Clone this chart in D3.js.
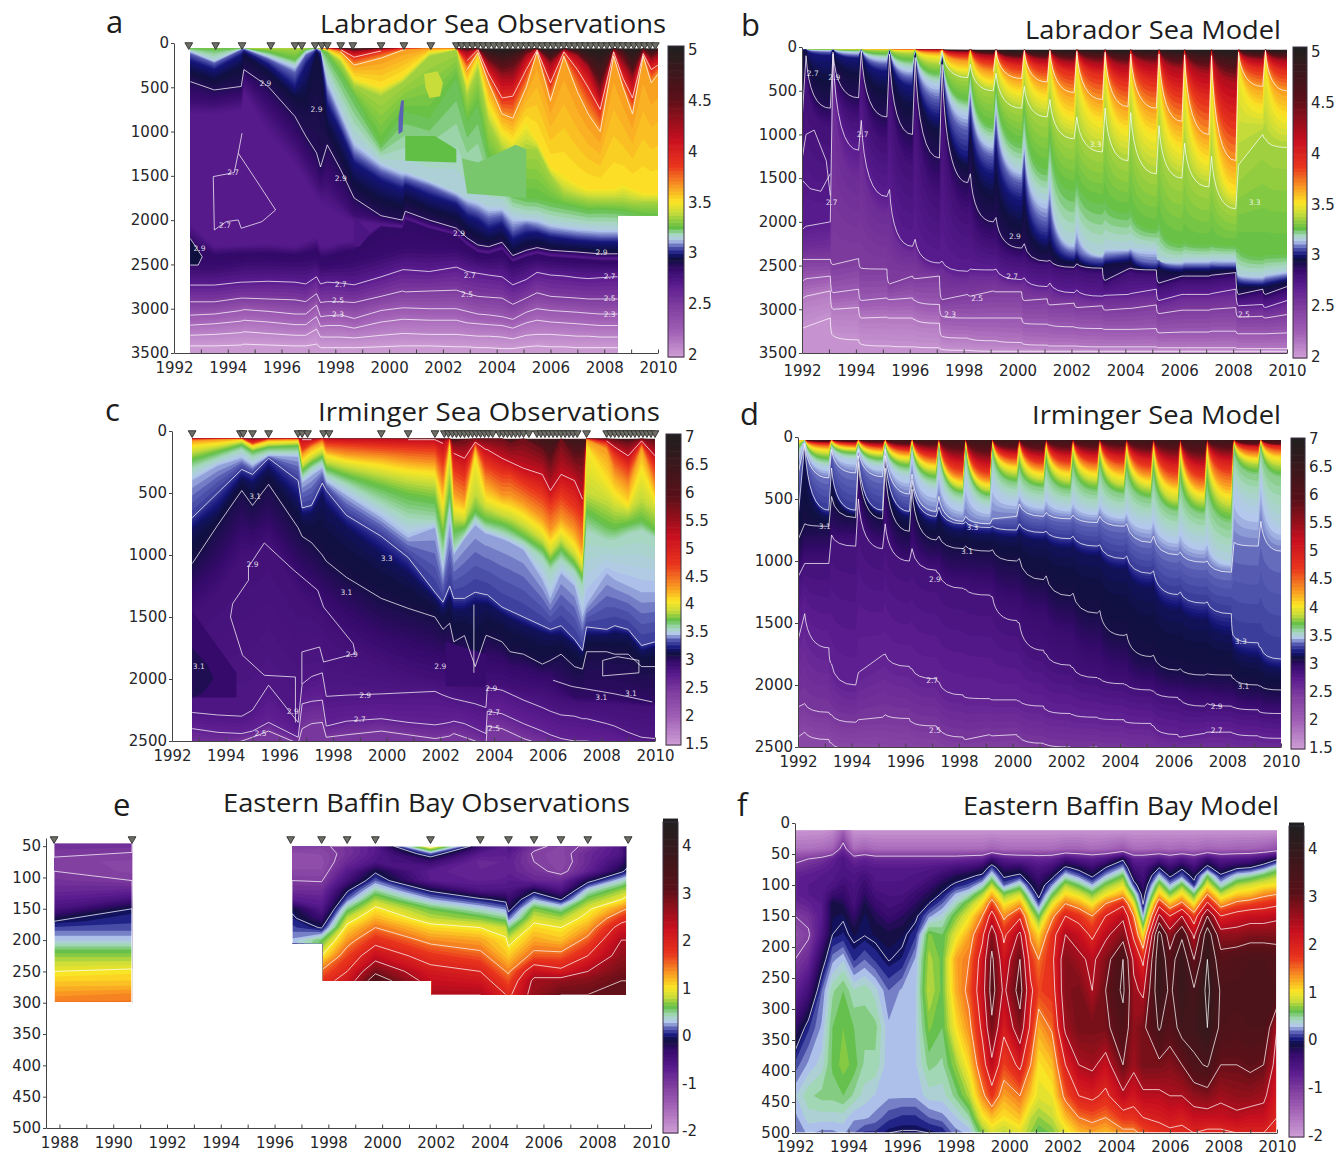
<!DOCTYPE html>
<html><head><meta charset="utf-8">
<script src="https://cdn.jsdelivr.net/npm/d3@7"></script>
<style>html,body{margin:0;background:#fff}svg{display:block}</style></head>
<body><svg id="c" width="1344" height="1157"></svg>
<script>
const colors=["#cf9fd6","#a160b5","#7e3c9e","#5b1c8f","#350a6b","#10103f","#14147a","#5a60b5","#b4c8ee","#a5d8bc","#62bf46","#c8dc3a","#fbe625","#f99a22","#e9351d","#c80f1f","#5a1018","#1f1f1f"];
const labDomain=[2,2.25,2.5,2.7,2.85,2.95,3,3.07,3.13,3.19,3.25,3.4,3.5,3.65,3.85,4.1,4.5,5];
const irmDomain=[1.5,2,2.45,2.75,2.98,3.13,3.22,3.38,3.47,3.58,3.72,3.88,4.05,4.3,4.7,5.2,5.9,7];
const bafDomain=[-2,-1.4,-1,-.65,-.25,-.05,.05,.2,.33,.47,.65,.85,1.05,1.35,1.75,2.3,3.1,4.5];
const labBarTicks=[2,2.5,3,3.5,4,4.5,5];
const irmBarTicks=[1.5,2,2.5,3,3.5,4,4.5,5,5.5,6,6.5,7];
const bafBarTicks=[-2,-1,0,1,2,3,4];
const yearTicks=[1992,1993,1994,1995,1996,1997,1998,1999,2000,2001,2002,2003,2004,2005,2006,2007,2008,2009,2010];
const eYearTicks=[1988,1989,1990,1991,1992,1993,1994,1995,1996,1997,1998,1999,2000,2001,2002,2003,2004,2005,2006,2007,2008,2009,2010];
const labDepthTicks=[0,500,1000,1500,2000,2500,3000,3500];
const irmDepthTicks=[0,500,1000,1500,2000,2500];
const eDepthTicks=[50,100,150,200,250,300,350,400,450,500];
const fDepthTicks=[0,50,100,150,200,250,300,350,400,450,500];

// ---------- a: Labrador Sea Observations
const aYears=[1992.6,1993.5,1994.5,1994.6,1995.5, 1996.5,1996.9,1997.3,1997.45,1997.7, 1998.2,1998.7,1999.7,2000.5,2000.6, 2001.5,2002.5,2002.9,2003.3,2003.7, 2004.2,2004.6,2005.1,2005.5,2006, 2006.5,2007,2007.4,2007.85,2008.35, 2008.7,2009.05,2009.45,2009.75,2010];
const aLevels=[5,4.6,4.2,3.9,3.65,3.5,3.35,3.25,3.15,3.07,3,2.95,2.9,2.82,2.72,2.72,2.86,2.84,2.7,2.5,2.3,2.2,2.1,2.02];
const aLines=[3.9,3.65,2.9,2.7,2.5,2.3,2.2,2.1,2.02];
const aDepths=[
[60,60,60,60,60,60,60,60,60,60,60,60,60,60,60,60,60,60,60,60,60,60,60,60,60,60,60,60,60,60,60,60,60,60,60],
[60,60,60,60,60, 60,60,60,60,60, 60,70,60,60,60, 60,60,60,60,150, 230,180,80,60,160, 60,100,200,380,60, 100,280,60,120,80],
[60,60,60,60,60, 60,60,60,60,60, 65,100,65,60,60, 60,60,110,65,250, 400,400,150,65,250, 80,150,280,600,80, 250,420,100,200,150],
[60,60,60,60,60, 60,60,60,60,62, 75,160,90,60,60, 60,60,200,75,350, 620,600,300,80,450, 100,300,500,750,100, 400,620,120,300,250],
[60,60,60,60,60, 60,60,60,60,65, 100,250,170,80,75, 60,62,300,110,450, 800,850,500,100,650, 150,550,800,1000,150, 500,800,150,450,350],
[60,60,60,60,60, 60,60,60,65,80, 160,400,500,380,350, 100,70,450,160,700, 1000,1100,900,1100,1400, 1500,1600,1650,1650,1650, 1600,1650,1700,1700,1700],
[60,60,60,60,60, 60,60,60,70,90, 220,480,600,450,420, 150,80,600,300,900, 1200,1300,1200,1200,1500, 1700,1740,1770,1780,1780, 1780,1800,1800,1800,1800],
[60,65,60,60,100, 190,70,60,75,120, 350,600,1150,800,780, 850,400,900,700,1300, 1450,1700,1750,1760,1800, 1830,1860,1890,1880,1890, 1900,1920,1950,1950,1950],
[90,200,65,60,150, 260,110,60,80,400, 750,1100,1350,1450,1450, 1550,1680,1750,1780,1850, 1850,1950,1980,1980,2040, 2060,2080,2090,2100,2100, 2100,2100,2100,2100,2100],
[120,230,80,70,180, 340,140,70,100,550, 900,1250,1450,1550,1530, 1620,1750,1850,1900,1980, 1950,2120,2050,2080,2130, 2150,2170,2180,2190,2190, 2190,2190,2190,2190,2190],
[200,300,130,90,240, 500,250,80,130,700, 1000,1350,1550,1650,1600, 1720,1820,1950,2000,2100, 2050,2220,2150,2140,2190, 2210,2230,2240,2250,2250, 2250,2250,2250,2250,2250],
[330,420,280,130,330, 620,600,100,250,950, 1250,1600,1780,1850,1750, 1880,1980,2100,2180,2230, 2180,2350,2270,2260,2300, 2320,2330,2340,2350,2350, 2350,2350,2350,2350,2350],
[435,530,490,300,490, 830,1050,1240,1400,1150, 1430,1750,1950,2000,1900, 2000,2090,2200,2280,2300, 2250,2400,2340,2310,2340, 2350,2360,2370,2380,2380, 2380,2380,2380,2380,2380],
[650,680,620,400,720, 1100,1300,1500,1600,1550, 1750,1950,2000,2040,1950, 2050,2130,2240,2320,2340, 2290,2430,2370,2340,2370, 2380,2390,2400,2410,2410, 2410,2410,2410,2410,2410],
[800,800,750,550,1000, 1350,1550,1750,1800,1850, 1950,2010,2050,2070,1970, 2070,2150,2260,2340,2360, 2310,2450,2390,2360,2390, 2400,2410,2420,2430,2430, 2430,2430,2430,2430,2430],
[2050,2300,2280,2280,2270, 2300,2250,2200,2300,2300, 2250,2230,2060,2080,1980, 2080,2160,2270,2350,2370, 2320,2460,2400,2370,2400, 2410,2420,2430,2440,2440, 2440,2440,2440,2440,2440],
[2250,2400,2380,2380,2380, 2400,2380,2340,2420,2420, 2370,2350,2080,2100,2000, 2100,2180,2290,2370,2390, 2340,2480,2420,2390,2420, 2430,2440,2450,2460,2460, 2460,2460,2460,2460,2460],
[2520,2520,2480,2470,2470, 2480,2470,2450,2520,2520, 2500,2480,2400,2330,2320, 2330,2330,2390,2440,2450, 2420,2520,2470,2450,2470, 2480,2490,2490,2500,2500, 2500,2500,2500,2500,2500],
[2733,2733,2700,2700,2690, 2700,2720,2640,2720,2700, 2710,2730,2640,2560,2560, 2580,2530,2580,2600,2620, 2640,2730,2670,2590,2620, 2630,2650,2660,2650,2640, 2640,2640,2640,2640,2640],
[2922,2922,2880,2880,2890, 2900,2920,2830,2930,2920, 2920,2930,2860,2800,2810, 2800,2790,2830,2860,2870, 2880,2950,2880,2820,2860, 2870,2880,2890,2890,2890, 2890,2890,2890,2890,2890],
[3073,3060,3020,3010,3030, 3060,3060,2960,3090,3080, 3070,3110,3020,2990,2990, 3000,3000,3030,3060,3070, 3090,3120,3040,3000,3020, 3030,3040,3050,3060,3060, 3060,3060,3060,3060,3060],
[3186,3170,3140,3130,3150, 3180,3180,3090,3200,3190, 3190,3220,3150,3120,3120, 3130,3130,3160,3170,3180, 3190,3220,3160,3130,3150, 3160,3170,3180,3190,3190, 3190,3190,3190,3190,3190],
[3300,3290,3270,3260,3280, 3300,3300,3230,3320,3320, 3320,3330,3300,3280,3280, 3290,3290,3300,3310,3310, 3320,3340,3300,3290,3290, 3300,3310,3310,3320,3320, 3320,3320,3320,3320,3320],
[3420,3420,3410,3400,3410, 3420,3420,3400,3440,3440, 3440,3440,3430,3420,3420, 3420,3430,3430,3440,3440, 3450,3450,3430,3420,3430, 3430,3440,3440,3440,3440, 3440,3440,3440,3440,3440]];
const aEdgeYears=[1992.6,2008.5,2010];
const aEdgeDepths=[3500,1950,1950];
const aPatches=[
{v:3.25,p:[[2000.6,1050],[2001.7,1050],[2002.5,1200],[2002.5,1350],[2000.6,1330]]},
{v:3.4,p:[[2001.3,350],[2001.8,320],[2002,450],[2001.9,600],[2001.5,620],[2001.35,500]]},
{v:3.07,p:[[2000.45,650],[2000.55,650],[2000.5,1000],[2000.35,1030],[2000.35,850]]},
{v:3.23,p:[[2002.7,1300],[2003.3,1350],[2004,1250],[2004.7,1150],[2005.1,1200],[2005.1,1750],[2002.9,1700]]},
{v:2.95,p:[[1992.6,2200],[1992.85,2310],[1993.05,2410],[1992.9,2500],[1992.6,2510]]},
{v:2.76,p:[[1998.7,1950],[1999.3,2150],[1998.9,2300],[1998.7,2300]]}];
const aExtra=[[[1994.53,1018],[1994.39,1244],[1995.05,1546],[1995.78,1885],[1995.27,2017],[1994.5,2092],[1994.39,1998],[1993.94,2017],[1993.5,2111],[1993.46,1508],[1994.24,1463],[1994.39,1244]],
[[1992.6,2205],[1992.85,2318],[1993.05,2413],[1992.9,2507],[1992.6,2507]]];
const aLabels=[[1994.2,1460,"2.7"],[1993.9,2060,"2.7"],[1992.95,2320,"2.9"],[1995.4,460,"2.9"],[1997.3,750,"2.9"],[1998.2,1530,"2.9"],[2002.6,2150,"2.9"],[2007.9,2370,"2.9"],[1998.2,2730,"2.7"],[2003,2630,"2.7"],[2008.2,2640,"2.7"],[1998.1,2910,"2.5"],[2002.9,2840,"2.5"],[2008.2,2890,"2.5"],[1998.1,3060,"2.3"],[2008.2,3060,"2.3"]];
const aStations=[1992.55,1993.55,1994.53,1995.6,1996.5,1996.75,1997.25,1997.5,1997.7,1998.2,1998.65,1999.7,2000.55,2001.55,2002.5,2002.7,2002.9,2003.1,2003.3,2003.5,2003.7,2003.9,2004.1,2004.3,2004.5,2004.7,2004.9,2005.1,2005.3,2005.5,2005.7,2005.9,2006.1,2006.3,2006.5,2006.7,2006.9,2007.1,2007.3,2007.5,2007.7,2007.9,2008.1,2008.3,2008.5,2008.7,2008.9,2009.1,2009.3,2009.5,2009.7,2009.9];

// ---------- b: Labrador Sea Model
const bYears=[1992,1992.15, 1993.05,1993.15,1994.1,1994.2,1995.15,1995.25,1996.1,1996.2,1997.1,1997.2, 1998.15,1998.25,1999.1,1999.2,2000.15,2000.25,2001.1,2001.2,2002.1,2002.2, 2003.15,2003.25,2004.1,2004.2,2005.15,2005.25,2006.1,2006.2,2007.1,2007.2, 2008.1,2008.2,2009.1,2009.2, 2010];
const bLevels=[5,4.7,4.2,3.9,3.65,3.5,3.35,3.25,3.15,3.07,3,2.94,2.9,2.8,2.7,2.6,2.5,2.3,2.15,2.05];
const bLines=[3.65,3.35,2.9,2.7,2.5,2.3,2.15,2.05];
const bDepths=[
[30,30, 30,30,30,30,30,30,30,30,30,30, 30,30,30,30,30,30,30,30,30,30, 30,30,30,30,30,30,30,30,30,30, 30,30,30,30, 30],
[30,30, 30,30,30,30,30,30,30,30,30,30, 40,30,60,30,90,30,90,30,90,30, 80,30,100,30,90,30,110,30,120,30, 160,30,80,30, 80],
[30,30, 30,30,30,30,30,30,30,30,30,30, 60,30,100,30,140,30,150,30,180,30, 190,30,220,30,200,30,250,30,300,30, 400,30,150,30, 160],
[30,30, 30,30,30,30,30,30,30,30,40,30, 100,30,170,30,220,30,240,30,290,30, 320,35,400,35,400,35,520,35,600,35, 850,35,250,30, 280],
[30,30, 30,30,30,30,30,30,30,30,70,30, 160,30,280,40,360,40,400,40,520,50, 600,60,680,80,700,80,850,90,1000,100, 1300,60,450,40, 500],
[30,30, 30,30,30,30,30,30,40,30,110,35, 260,40,400,50,520,80,580,80,800,100, 850,130,950,200,1000,200,1150,250,1300,280, 1650,80,700,60, 800],
[30,30, 30,30,30,30,40,30,80,35,200,45, 350,200,500,300,700,450,800,600,1050,800, 1200,700,1300,750,1450,900,1500,1100,1600,1250, 1850,1350,1000,1050, 1150],
[30,30, 30,30,40,30,80,30,150,40,300,60, 600,280,900,450,1100,700,1400,1000,1650,1500, 1800,1750,1900,1850,2090,2000,2260,2230,2270,2250, 2280,2300,2400,2380, 2380],
[30,30, 40,30,60,30,130,30,250,50,420,80, 750,450,1100,650,1400,1100,1750,1500,2250,2000, 2380,2300,2310,2290,2310,2450,2460,2440,2440,2430, 2430,2600,2620,2600, 2560],
[30,30, 60,30,100,30,200,40,350,60,600,100, 950,600,1250,850,1550,1250,2000,1800,2350,2300, 2430,2400,2370,2350,2470,2440,2510,2500,2500,2490, 2500,2650,2680,2660, 2620],
[30,30, 100,30,130,30,280,40,450,60,800,120, 1250,800,1450,1100,1750,1500,2200,2100,2430,2380, 2500,2460,2430,2410,2530,2500,2550,2540,2540,2530, 2530,2700,2720,2710, 2660],
[100,30, 450,40,350,30,550,40,750,70,1000,150, 1400,1000,1750,1500,2100,1850,2350,2300,2480,2440, 2530,2500,2480,2470,2560,2530,2590,2570,2580,2570, 2560,2760,2750,2760, 2700],
[850,100, 700,60,580,40,800,80,1000,120,1270,200, 1550,1450,2000,1950,2300,2250,2450,2440,2520,2480, 2530,2670,2540,2530,2550,2700,2620,2620,2620,2610, 2580,2830,2770,2830, 2740],
[950,300, 900,80,800,50,1100,150,1350,250,1700,400, 1900,1850,2250,2230,2420,2400,2500,2480,2560,2540, 2600,2720,2590,2580,2610,2750,2680,2680,2680,2670, 2650,2880,2830,2880, 2810],
[2090,2050, 2000,80,1180,840,1710,1630,2280,2200,2470,2450, 2565,2540,2550,2540,2660,2640,2740,2700,2810,2780, 2850,2840,2830,2820,2770,2900,2830,2830,2830,2820, 2770,2960,2945,2980, 2900],
[2300,2280, 2250,300,1500,1100,1900,1850,2350,2300,2550,2530, 2650,2620,2630,2620,2720,2700,2790,2760,2860,2830, 2900,2880,2880,2870,2850,2950,2880,2880,2880,2870, 2840,3000,2990,3020, 2950],
[2430,2430, 2430,2490,2420,2530,2540,2710,2620,2650,2620,2890, 2830,2850,2790,2800,2800,2900,2880,2950,2930,2980, 2960,3010,2990,2990,2950,3050,3010,3010,3010,3000, 2980,3090,3080,3100, 3060],
[2680,2650, 2620,2810,2770,2900,2870,2890,2870,2900,2945,3080, 3100,3100,3100,3100,3100,3160,3170,3180,3200,3210, 3220,3230,3230,3230,3220,3270,3260,3260,3260,3250, 3250,3280,3280,3280, 3270],
[2880,2850, 2790,3000,2980,3100,3090,3100,3100,3120,3160,3310, 3330,3340,3360,3360,3380,3400,3410,3420,3420,3420, 3430,3430,3430,3430,3430,3440,3440,3440,3440,3440, 3440,3450,3450,3450, 3450],
[3220,3200, 3100,3300,3350,3400,3420,3420,3430,3430,3440,3460, 3470,3470,3480,3480,3480,3480,3480,3480,3480,3480, 3480,3480,3480,3480,3480,3480,3480,3480,3480,3480, 3480,3480,3480,3480, 3480]];
const bPatches=[];
const bExtra=[[[1992.02,1250],[1992.15,1000],[1992.45,950],[1992.9,1300],[1993.05,1700]],[[1992,1520],[1992.3,1620],[1992.7,1650],[1993.05,1450]]];
const bLabels=[[1992.4,300,"2.7"],[1993.2,350,"2.9"],[1994.25,1000,"2.7"],[1993.1,1780,"2.7"],[1999.9,2170,"2.9"],[1999.8,2620,"2.7"],[1998.5,2880,"2.5"],[1997.5,3060,"2.3"],[2002.9,1120,"3.3"],[2008.8,1780,"3.3"],[2008.4,3060,"2.5"]];

// ---------- c: Irminger Sea Observations
const cYears=[1992.75,1993.7,1994.6,1995,1995.6, 1996.7,1996.85,1997.2,1997.6,1997.75, 1998.5,1999.8,2000.8,2001.8,2002.1, 2002.35,2002.5,2002.9,2003.3,2003.7, 2003.75,2004.3,2004.6,2005.1,2005.8, 2006.1,2006.5,2007,2007.3,2007.45, 2008.2,2008.5,2009,2009.5,2010];
const cLevels=[6.5,5.8,5.2,4.7,4.3,4.05,3.88,3.72,3.58,3.45,3.3,3.17,3.1,3,2.9,2.82,2.7,2.5];
const cLines=[5.2,3.3,3.1,2.82,2.7,2.5];
const cDepths=[
[60,60,60,60,60,60,60,60,60,60,60,60,60,60,60,60,60,60,60,60,60,60,60,60,60,60,60,60,60,60,60,60,60,60,60],
[60,60,60,60,60, 60,60,60,60,60, 60,60,60,60,60, 60,90,70,60,60, 60,60,100,60,150, 250,60,220,220,60, 60,70,90,60,80],
[60,60,60,70,60, 60,70,70,60,62, 65,65,70,70,100, 60,180,220,90,150, 150,220,250,300,350, 480,350,400,550,60, 80,130,200,80,200],
[65,62,62,100,65, 62,150,100,62,100, 110,130,140,150,260, 62,320,380,100,280, 280,350,350,430,520, 600,520,620,700,62, 100,200,300,100,300],
[80,70,65,110,75, 70,190,130,90,160, 190,210,240,260,450, 70,500,560,130,420, 420,520,520,580,700, 800,700,800,950,70, 150,350,450,130,450],
[120,100,75,125,90, 85,240,180,130,200, 240,280,320,340,600, 120,620,650,200,550, 550,600,620,680,800, 900,800,920,1050,120, 400,500,600,300,550],
[170,130,90,145,110, 100,280,220,170,250, 290,350,400,430,700, 300,700,720,500,620, 620,680,700,760,880, 980,880,1000,1120,500, 560,620,650,540,640],
[230,170,110,165,130, 120,320,260,210,300, 360,450,520,560,850, 500,800,780,650,720, 720,750,780,850,950, 1050,950,1070,1180,650, 760,780,750,720,800],
[300,220,150,210,170, 170,370,300,250,350, 430,580,700,720,1000, 600,950,840,700,780, 780,820,850,900,1020, 1120,1030,1130,1250,800, 880,880,830,800,860],
[400,280,220,280,200, 210,420,360,300,410, 520,700,860,780,1150, 750,1000,870,760,830, 830,870,900,960,1200, 1350,1150,1250,1500,1400, 1150,1200,1250,1300,1300],
[700,500,310,350,220, 400,620,600,420,480, 680,850,1020,1300,1380, 1250,1350,1350,1300,1320, 1320,1420,1450,1500,1570, 1600,1570,1680,1770,1580, 1600,1570,1600,1730,1700],
[800,650,380,430,300, 580,680,670,520,620, 780,1000,1150,1350,1450, 1350,1450,1450,1400,1400, 1400,1480,1520,1570,1630, 1650,1650,1720,1800,1650, 1650,1630,1650,1780,1750],
[1070,760,480,600,430, 780,850,900,1000,1050, 1180,1350,1430,1500,1600, 1550,1700,1650,1900,1650, 1650,1700,1780,1800,1880, 1850,1800,1900,1920,1780, 1780,1800,1800,1900,1900],
[1250,1050,750,800,700, 1050,1100,1150,1250,1280, 1420,1600,1680,1750,1780, 1780,1800,1820,1950,1800, 1800,1820,1880,1900,1950, 1950,2050,2150,2150,2150, 2150,2160,2170,2190,2190],
[1500,1300,1000,1000,900, 1300,1350,1400,1500,1550, 1700,1850,1950,2000,2010, 2020,2030,2050,2060,2060, 2060,2050,2070,2090,2110, 2130,2170,2180,2190,2190, 2200,2200,2210,2220,2220],
[2270,2290,2300,2250,2050, 2350,2040,1980,1950,2140, 2130,2120,2110,2100,2130, 2150,2160,2180,2200,2230, 2070,2090,2120,2170,2230, 2260,2290,2300,2320,2320, 2360,2380,2430,2470,2480],
[2400,2430,2440,2420,2350, 2470,2200,2180,2170,2380, 2340,2320,2350,2370,2360, 2350,2340,2360,2400,2440, 2260,2280,2310,2360,2420, 2450,2480,2500,2500,2500, 2520,2520,2540,2550,2560],
[2550,2550,2500,2470,2420, 2520,2400,2360,2350,2470, 2450,2420,2450,2480,2470, 2460,2440,2470,2500,2530, 2380,2400,2430,2480,2530, 2550,2560,2570,2580,2580, 2600,2600,2600,2600,2600]];
const cPatches=[
{v:2.98,p:[[1992.75,1450],[1993.4,1650],[1994.4,1950],[1994.4,2150],[1992.75,2150]]},
{v:3.07,p:[[1992.75,1750],[1993.3,1880],[1993.55,2000],[1993.1,2120],[1992.75,2150]]},
{v:2.96,p:[[2002.2,1700],[2003.7,1800],[2003.7,2060],[2002.2,2060]]}];
const cExtra=[[[1995.44,903],[1994.85,1097],[1994.85,1204],[1994.26,1392],[1994.18,1500],[1994.63,1809],[1995.44,1970],[1996.6,1984],[1996.6,2350]],
[[1995.44,903],[1996.54,1123],[1997.43,1285],[1997.65,1420],[1998.75,1715],[1998.83,1795],[1997.65,1863],[1997.5,1742],[1996.84,1782],[1996.84,2040]],
[[2006.2,2010],[2006.9,2060],[2008.5,2120],[2009.9,2185]],
[[2008.05,1850],[2008.6,1820],[2009.4,1850],[2009.4,1950],[2008.05,1975],[2008.05,1850]],
[[2003.25,1400],[2003.25,1950]]];
const cLabels=[[1995,1080,"2.9"],[1998.7,1800,"2.9"],[2002,1900,"2.9"],[1995.1,530,"3.1"],[1998.5,1300,"3.1"],[2000,1030,"3.3"],[1993,1900,"3.1"],[1999.2,2130,"2.9"],[1996.5,2260,"2.9"],[2008,2150,"3.1"],[1999,2330,"2.7"],[2003.9,2080,"2.9"],[2004,2270,"2.7"],[2004,2400,"2.5"],[1995.3,2440,"2.5"],[2009.1,2120,"3.1"]];
const cStations=[1992.75,1994.55,1994.65,1995,1995.6,1996.7,1996.85,1997.05,1997.65,1997.85,1999.8,2000.8,2001.8,2002.15,2002.3,2002.45,2002.6,2002.75,2002.9,2003.05,2003.2,2003.35,2003.5,2003.65,2003.8,2003.95,2004.2,2004.35,2004.5,2004.65,2004.8,2004.95,2005.1,2005.3,2005.6,2005.75,2005.9,2006.05,2006.2,2006.35,2006.5,2006.65,2006.8,2006.95,2007.1,2007.45,2008.2,2008.35,2008.5,2008.65,2008.8,2008.95,2009.1,2009.25,2009.4,2009.55,2009.7,2009.85,2010];

// ---------- d: Irminger Sea Model
const dYears=[1992,1992.25, 1993.15,1993.25,1994.15,1994.25,1995.15,1995.25,1996.15,1996.25,1997.15,1997.25, 1998.15,1998.25,1999.15,1999.25,2000.15,2000.25,2001.15,2001.25,2002.15,2002.25, 2003.15,2003.25,2004.15,2004.25,2005.15,2005.25,2006.15,2006.25,2007.15,2007.25, 2008.15,2008.25,2009.15,2009.25, 2010];
const dLevels=[6.5,5.8,5,4.5,4.1,3.85,3.65,3.5,3.4,3.3,3.17,3.1,3.02,2.95,2.9,2.7,2.5,2.3];
const dLines=[3.4,3.3,3.1,2.9,2.7,2.5,2.3];
const dDepths=[
[25,25, 25,25,25,25,25,25,25,25,25,25, 25,25,25,25,25,25,25,25,25,25, 25,25,25,25,25,25,25,25,25,25, 25,25,25,25, 25],
[25,25, 40,25,40,25,45,25,60,25,70,25, 110,25,130,25,90,25,100,25,90,25, 90,25,80,25,100,25,110,25,140,25, 100,25,60,25, 60],
[25,25, 50,25,50,25,70,25,90,25,130,25, 210,25,240,25,140,30,170,30,160,30, 160,30,160,30,180,30,220,30,250,30, 200,25,80,25, 70],
[25,25, 70,25,70,25,90,25,120,25,180,30, 300,30,320,30,190,40,230,40,230,40, 220,40,230,40,270,40,330,40,360,40, 320,30,120,25, 110],
[30,25, 100,30,90,30,120,30,160,30,230,40, 360,40,380,40,240,60,290,60,290,60, 290,60,310,70,350,70,420,80,450,80, 460,40,170,30, 160],
[60,25, 140,50,110,50,150,50,200,60,280,60, 410,70,430,70,300,150,350,110,360,120, 360,120,390,140,420,150,520,180,530,200, 560,60,220,50, 230],
[100,25, 190,60,140,60,190,60,250,80,340,80, 460,100,480,110,370,250,410,220,430,230, 440,230,460,270,500,300,600,350,620,400, 690,100,300,80, 320],
[150,30, 240,80,180,80,240,80,320,120,420,250, 550,300,570,300,500,430,540,450,560,480, 590,500,620,560,680,600,800,700,850,780, 1000,350,560,250, 700],
[300,50, 330,100,290,100,320,100,460,300,600,480, 680,640,700,660,640,540,640,610,660,630, 690,640,720,700,850,800,950,930,1010,1000, 1090,850,880,680, 920],
[650,60, 590,250,590,150,590,150,600,350,640,565, 700,685,730,720,750,700,770,760,820,800, 880,870,980,960,1100,1080,1270,1250,1340,1330, 1425,1610,1660,1700, 1790],
[700,80, 640,280,620,180,620,180,650,380,700,620, 760,740,790,780,810,770,840,830,900,880, 960,950,1070,1050,1220,1200,1400,1380,1480,1470, 1600,1700,1780,1800, 1870],
[830,700, 720,480,650,200,660,250,760,420,830,800, 900,880,920,910,1000,980,1150,1120,1280,1260, 1420,1400,1600,1590,1770,1760,1880,1870,1920,1910, 1920,1950,2000,2010, 2040],
[1000,850, 850,700,750,300,780,350,900,600,950,920, 1050,1030,1060,1050,1180,1170,1300,1290,1450,1440, 1600,1580,1760,1750,1900,1890,1990,1980,2020,2010, 2040,2050,2100,2100, 2130],
[1050,950, 950,800,800,400,850,500,1000,800,1020,1000, 1150,1130,1180,1170,1320,1300,1450,1440,1600,1590, 1780,1770,1900,1890,2000,1990,2070,2060,2090,2080, 2110,2120,2170,2170, 2200],
[1130,1020, 1020,790,880,500,900,700,1000,900,1075,1100, 1220,1230,1275,1290,1480,1500,1720,1750,1840,1860, 1940,1950,1990,2000,2040,2050,2100,2120,2170,2150, 2170,2180,2200,2220, 2230],
[1640,1425, 1700,1830,2000,1900,1760,1750,1850,1870,1950,1975, 2080,2100,2110,2120,2120,2130,2170,2200,2230,2240, 2260,2270,2280,2300,2310,2330,2400,2420,2390,2380, 2380,2390,2410,2420, 2430],
[2177,2150, 2220,2240,2300,2280,2260,2240,2270,2300,2330,2350, 2420,2440,2400,2410,2400,2420,2470,2480,2500,2510, 2500,2510,2520,2530,2540,2550,2560,2570,2580,2590, 2600,2610,2620,2620, 2630],
[2420,2380, 2440,2470,2520,2510,2530,2540,2560,2570,2600,2600, 2620,2620,2640,2640,2640,2640,2650,2650,2650,2650, 2650,2650,2650,2650,2650,2650,2650,2650,2650,2650, 2650,2650,2650,2650, 2650]];
const dPatches=[];
const dExtra=[];
const dLabels=[[1993,720,"3.1"],[1998.5,730,"3.3"],[1998.3,920,"3.1"],[1997.1,1150,"2.9"],[1997,1960,"2.7"],[1997.1,2370,"2.5"],[2008.5,1650,"3.3"],[2008.6,2010,"3.1"],[2007.6,2170,"2.9"],[2007.6,2370,"2.7"]];

// ---------- e: Eastern Baffin Bay Observations
const eLeftYears=[1987.8,1990.7];
const eLeftDepths=[45,60,75,90,105,125,150,170,185,200,215,230,250,270,285,300];
const eLeftCols=[[-.85,-.95,-1.05,-1,-.9,-.75,-.45,0,.2,.35,.6,.8,1,1.2,1.35,1.5],[-.85,-1,-1.1,-1.1,-1,-.65,0,.1,.2,.35,.6,.8,1.05,1.2,1.4,1.5]];
const eRightYears=[1996.65,1997.75,1998.7,1999.75,2001.8,2003.65,2004.6,2004.7,2005.65,2006.65,2007.65,2008.9,2009.1];
const eRightDepths=[50,62,75,90,105,120,135,150,165,180,200,225,250,265,287,310];
const eRightCols=[
[-1,-1.2,-1.2,-1.15,-1,-.85,-.6,-.05,.05,.15,.3,.3,.3,.3,.3,.3],
[-1.05,-1.15,-1.2,-1.15,-1.02,-.85,-.7,-.55,-.3,-.02,.6,1,1.55,1.8,1.9,1.9],
[-.9,-.9,-.8,-.6,-.4,-.05,.2,.55,.85,1.1,1.35,1.7,2,2.2,2.2,2.2],
[-.6,-.6,-.5,-.05,.2,.5,.8,1.05,1.25,1.5,1.85,2.3,2.9,3.3,3.3,3.3],
[1.2,.2,-.3,-.65,-.6,-.05,.3,.65,.85,1.1,1.4,1.8,2.15,2.3,2.5,2.5],
[-.3,-.6,-.8,-.75,-.7,-.5,.05,.4,.7,1,1.3,1.6,2,2.2,2.5,2.5],
[-.6,-.65,-.75,-.75,-.65,-.5,-.1,.25,.55,.85,1.05,1.2,1.5,1.7,2,2],
[-.5,-.6,-.7,-.7,-.6,-.5,-.3,-.1,.2,.55,.9,1.15,1.45,1.65,1.9,1.9],
[-.9,-1.05,-1,-.9,-.75,-.1,.3,.7,.9,1.1,1.3,1.6,2.3,2.6,2.7,2.7],
[-1.1,-1.12,-1.15,-1.1,-.8,-.5,-.02,.5,.8,1,1.2,1.6,2.1,2.7,3,3],
[-.95,-.8,-.8,-.7,-.1,.4,.7,.95,1.1,1.3,1.6,2,2.5,2.8,3,3],
[-.5,-.5,-.3,-.05,.4,.75,1,1.4,1.8,2.2,2.5,2.7,2.9,3,3,3],
[-.1,-.2,-.1,.05,.5,.8,1.1,1.5,1.9,2.2,2.5,2.7,2.9,3,3,3]];
const eEdgeYears=[1996.65,1997.8,2001.85,2009.15];
const eEdgeDepths=[205,265,287,287];
const eLines=[-1,0,1,1.5,2,2.5,3];
const eStations=[1987.8,1990.7,1996.6,1997.75,1998.7,1999.75,2001.8,2003.65,2004.7,2005.65,2006.65,2007.65,2009.15];

// ---------- f: Eastern Baffin Bay Model
const fYears=[1992,1992.5,1993,1993.4,1993.8,1994.2,1994.6,1995,1995.5,1996,1996.5,1997,1997.5,1998,1998.5,1999,1999.35,1999.8,2000.4,2000.8,2001.1,2001.6,2002.1,2002.6,2003.1,2003.6,2004.25,2004.65,2005,2005.6,2006,2006.45,2006.9,2007.4,2007.9,2008.5,2009,2009.5,2010];
const fDepths=[12,42,58,72,85,100,115,130,150,180,220,270,330,390,440,475,500];
const fCols=[
[-1.9,-1.55,-1.1,-.9,-.7,-.7,-.7,-.8,-1,-1.2,-1,-.7,-.25,.15,.35,.25,.2],
[-1.9,-1.55,-1,-.8,-.65,-.6,-.6,-.7,-.9,-1.05,-.8,-.4,.1,.3,.5,.4,.3],
[-1.9,-1.5,-.9,-.7,-.6,-.55,-.55,-.6,-.6,-.5,-.15,.2,.3,.4,.55,.4,.25],
[-1.8,-1.4,-.7,-.6,-.55,-.5,-.3,-.05,-.05,0,.25,.5,.6,.62,.55,.4,.25],
[-1.4,-.8,-.5,-.5,-.45,-.35,-.25,-.15,-.02,.05,.35,.6,.68,.72,.6,.4,.3],
[-1.9,-1.5,-.8,-.6,-.5,-.45,-.45,-.4,-.25,-.05,.1,.45,.6,.65,.5,.3,.2],
[-1.9,-1.4,-.7,-.55,-.4,-.3,-.2,-.1,-.02,-.01,.2,.5,.55,.5,.4,.3,.1],
[-1.9,-1.5,-.8,-.6,-.55,-.5,-.4,-.3,-.15,-.05,.1,.4,.55,.5,.35,.25,.1],
[-1.9,-1.5,-.8,-.6,-.55,-.5,-.45,-.4,-.3,-.08,-.01,.2,.3,.3,.3,.15,0],
[-1.9,-1.5,-.8,-.6,-.55,-.5,-.45,-.35,-.2,-.05,.05,.3,.35,.35,.3,.1,-.02],
[-1.9,-1.5,-.8,-.6,-.5,-.45,-.3,-.2,-.05,.1,.3,.35,.35,.35,.3,.1,-.02],
[-1.9,-1.5,-.8,-.55,-.45,-.3,-.15,0,.25,.7,.8,.85,.7,.55,.4,.2,0],
[-1.9,-1.5,-.8,-.5,-.3,-.1,.03,.2,.4,.6,.65,.65,.6,.5,.4,.25,.05],
[-1.9,-1.5,-.8,-.4,-.15,.05,.3,.45,.7,.95,1.3,1.25,1.05,.75,.55,.35,.25],
[-1.9,-1.5,-.75,-.35,-.05,.15,.45,.75,1,1.3,1.5,1.6,1.4,1.1,.8,.5,.3],
[-1.9,-1.5,-.7,-.2,.05,.4,.8,1.1,1.5,1.9,2.2,2.3,2.1,1.8,1.4,1,.7],
[-1.9,-1.4,-.3,.15,.45,.85,1.25,1.7,2.2,2.8,3.1,3.2,2.9,2.4,1.8,1.2,.9],
[-1.9,-1.5,-.6,-.25,-.05,.2,.7,1,1.4,1.9,2.2,2.4,2.1,1.7,1.3,1.05,.8],
[-1.9,-1.5,-.7,-.2,.05,.5,.9,1.3,1.9,2.6,3,3.2,2.8,2.1,1.5,1.2,.95],
[-1.9,-1.5,-.7,-.4,-.2,0,.3,.6,1,1.4,1.8,2.1,1.9,1.5,1.15,.85,.75],
[-1.9,-1.5,-.75,-.5,-.35,-.2,-.1,.15,.6,1.1,1.5,1.7,1.3,1.05,.95,.75,.6],
[-1.9,-1.5,-.7,-.35,-.1,.25,.6,.95,1.4,1.8,1.9,1.8,1.55,1.2,1,.85,.7],
[-1.9,-1.4,-.4,.05,.4,.8,1.1,1.5,2,2.5,2.8,2.8,2.6,2,1.6,1.2,.95],
[-1.9,-1.4,-.55,-.1,.2,.6,.95,1.3,1.8,2.3,2.6,2.9,2.9,2.5,2,1.5,1.2],
[-1.9,-1.5,-.65,-.3,-.05,.3,.7,1,1.5,1.9,2.4,2.5,2.9,2.6,2.1,1.6,1.3],
[-1.9,-1.45,-.5,0,.3,.7,1,1.5,2,2.4,2.8,3,2.9,2.3,1.9,1.5,1.2],
[-1.9,-1.3,-.05,.3,.65,.95,1.3,1.9,2.4,2.8,3.5,3.6,3.3,3,2.4,1.8,1.4],
[-1.9,-1.5,-.7,-.4,-.2,.15,.6,1,1.5,1.9,2.4,2.6,2.7,2.6,2.2,1.8,1.4],
[-1.9,-1.5,-.7,-.5,-.4,-.3,-.15,-.02,.3,1,1.9,2.4,2.9,2.9,2.4,2,1.6],
[-1.9,-1.45,-.5,0,.35,.8,1.2,1.8,2.6,3.7,3.9,3.9,3.55,2.9,2.4,2.1,1.8],
[-1.9,-1.5,-.7,-.3,-.05,.3,.7,1.2,2,2.7,3.2,3.4,3.2,2.8,2.5,2.2,1.9],
[-1.9,-1.45,-.5,-.05,.2,.7,1.1,1.6,2.5,3.4,3.9,3.9,3.7,3,2.5,2.1,1.9],
[-1.9,-1.5,-.7,-.35,-.1,.1,.6,1,1.7,2.4,3,3.55,3.7,3.4,2.7,2.3,2],
[-1.9,-1.4,-.3,.1,.6,1,1.5,2.1,3,3.8,4,4.1,4,3.55,2.8,2.3,1.9],
[-1.9,-1.45,-.6,-.25,.05,.4,.85,1.3,2,2.7,3.2,3.45,3.4,3,2.6,2.3,1.9],
[-1.9,-1.4,-.55,-.05,.4,.8,1.15,1.6,2.2,2.7,3.3,3.45,3.35,3,2.7,2.4,2],
[-1.9,-1.4,-.5,0,.5,.9,1.2,1.7,2.3,2.8,3.4,3.45,3.4,3.1,2.7,2.3,2],
[-1.9,-1.35,-.3,.2,.65,1,1.4,1.8,2.3,2.8,3.4,3.45,3.4,3,2.6,2.3,2],
[-1.9,-1.2,-.05,.5,.8,1.05,1.5,1.9,2.4,2.8,3.3,3.4,2.5,2.3,2.1,2,1.8]];
const fLines=[-1,0,1.5,2,2.5,3,3.5,4];

// ---------- layout and drawing
const svg=d3.select("#c");
const AF="DejaVu Sans, sans-serif", TF="Open Sans, Noto Sans, sans-serif", INK="#26262a";
let uid=0;

// Sawtooth ramp of the model panels: a fast fall after each winter, flattening towards the next one.
function sawCurve(context){
  let line,pt,x0,y0;
  return {
    areaStart(){line=0;}, areaEnd(){line=NaN;},
    lineStart(){pt=0;},
    lineEnd(){ if(line||(line!==0&&pt===1)) context.closePath(); line=1-line; },
    point(x,y){
      x=+x;y=+y;
      if(pt===0){pt=1; line?context.lineTo(x,y):context.moveTo(x,y);}
      else{pt=2; if(y>y0+.5) context.quadraticCurveTo(x0+(x-x0)*.14,y,x,y); else context.lineTo(x,y);}
      x0=x;y0=y;
    }
  };
}
function axes(g,x,y,ticksX,ticksY,bottomPx,pad){
  const ax=g.append("g").attr("transform",`translate(0,${bottomPx})`)
    .call(d3.axisBottom(x).tickValues(ticksX).tickSize(-3.5).tickSizeOuter(0).tickPadding(pad)
      .tickFormat(d=>d%2===0?String(d):""));
  const ay=g.append("g").attr("transform",`translate(${x.range()[0]},0)`)
    .call(d3.axisLeft(y).tickValues(ticksY).tickSize(3).tickSizeOuter(0).tickPadding(2).tickFormat(String));
  [ax,ay].forEach(s=>{s.selectAll("text").attr("font-family",AF).attr("font-size",15).attr("fill",INK);
    s.selectAll("line,path").attr("stroke","#444").attr("stroke-width",1);});
}
function titles(t,tx,ty,w,l,lx,ly){
  svg.append("text").text(t).attr("x",tx).attr("y",ty).attr("text-anchor","end").attr("font-family",TF).attr("font-weight",500)
    .attr("font-size",26).attr("fill","#1d1d20").attr("textLength",w).attr("lengthAdjust","spacingAndGlyphs");
  svg.append("text").text(l).attr("x",lx).attr("y",ly).attr("font-family",TF).attr("font-size",31).attr("fill","#1d1d20");
}
function colorbar(x0,x1,yTop,yBot,lo,hi,domain,ticks,color,fmtY){
  const ys=d3.scaleLinear().domain([lo,hi]).range([yBot,yTop]);
  const steps=d3.range(lo,hi,(hi-lo)/90);
  const g=svg.append("g");
  g.selectAll("rect").data(steps).join("rect").attr("x",x0).attr("width",x1-x0)
    .attr("y",d=>ys(d+(hi-lo)/90)).attr("height",d=>ys(d)-ys(d+(hi-lo)/90)+.6).attr("fill",d=>color(d+(hi-lo)/180));
  g.append("rect").attr("x",x0).attr("y",yTop).attr("width",x1-x0).attr("height",yBot-yTop).attr("fill","none").attr("stroke","#3a3040").attr("stroke-width",1);
  g.selectAll("text").data(ticks).join("text").text(d=>d).attr("x",x1+4).attr("y",d=>fmtY(d)+5)
    .attr("font-family",AF).attr("font-size",15).attr("fill",INK);
}
function isolinePanel(o){
  const {years,levels,depths,domain,lines,x,y,top,patches,extra,labels,edge,curve}=o;
  if(depths.length!==levels.length) throw new Error(o.name+" levels "+depths.length+"/"+levels.length);
  depths.forEach((r,i)=>{if(r.length!==years.length) throw new Error(o.name+" row "+i+" len "+r.length+" vs "+years.length);});
  const cv=curve||d3.curveLinear;
  const color=d3.scaleLinear().domain(domain).range(colors).interpolate(d3.interpolateRgb).clamp(true);
  const id="clip"+(uid++);
  const eY=edge?edge[0]:[years[0],years[years.length-1]], eD=edge?edge[1]:[y.domain()[1],y.domain()[1]];
  svg.append("clipPath").attr("id",id).append("path").attr("d",
    d3.area().x(d=>x(d[0])).y0(y(top)).y1(d=>y(d[1])).curve(d3.curveStepAfter)(eY.map((t,i)=>[t,eD[i]]).concat([[years[years.length-1],eD[eD.length-1]]])));
  const g=svg.append("g").attr("clip-path",`url(#${id})`);
  const bottom=y.range()[1];
  const sub=5;
  const ar=d3.area().x((d,i)=>x(years[i])).y0(bottom).y1(d=>y(d)).curve(cv);
  levels.forEach((lv,k)=>{
    if(k===levels.length-1) return;
    for(let s=0;s<sub;s++){
      const f=s/sub, v=lv+(levels[k+1]-lv)*(f+.5/sub);
      const pts=years.map((t,i)=>depths[k][i]+(depths[k+1][i]-depths[k][i])*f);
      g.append("path").attr("d",ar(pts)).attr("fill",color(v));
    }
  });
  const last=levels.length-1;
  g.append("path").attr("d",ar(depths[last])).attr("fill",color(levels[last]));
  (patches||[]).forEach(p=>{g.append("path").attr("d",d3.line().x(d=>x(d[0])).y(d=>y(d[1]))(p.p)+"Z").attr("fill",color(p.v));});
  const ln=d3.line().x((d,i)=>x(years[i])).y(d=>y(d)).defined(d=>d>top+8).curve(cv);
  levels.forEach((lv,k)=>{ if(lines.includes(lv)&&k>0) g.append("path").attr("d",ln(depths[k])).attr("fill","none").attr("stroke","#fff").attr("stroke-opacity",.72).attr("stroke-width",1); });
  (extra||[]).forEach(l=>g.append("path").attr("d",d3.line().x(d=>x(d[0])).y(d=>y(d[1])).curve(d3.curveLinear)(l)).attr("fill","none").attr("stroke","#fff").attr("stroke-opacity",.72).attr("stroke-width",1));
  (labels||[]).forEach(l=>g.append("text").text(l[2]).attr("x",x(l[0])).attr("y",y(l[1])+2.5).attr("text-anchor","middle").attr("font-family",AF).attr("font-size",7.5).attr("fill","#fff").attr("fill-opacity",.85));
  return color;
}
function gridPanel(o){
  const {years,depths,cols,x,y,color,lines,clipEdge,top}=o;
  const n=years.length,m=depths.length,flat=new Array(n*m);
  if(cols.length!==n) throw new Error("cols "+cols.length+" vs "+n);
  cols.forEach((c,i)=>{ if(c.length!==m) throw new Error("col "+i+" len "+c.length); c.forEach((v,j)=>flat[i+j*n]=v); });
  const ix=d3.scaleLinear().domain(d3.range(n)).range(years).clamp(true);
  const iy=d3.scaleLinear().domain(d3.range(m)).range(depths).clamp(true);
  const path=d3.geoPath(d3.geoTransform({point(a,b){this.stream.point(x(ix(a-.5)),y(iy(b-.5)));}}));
  const g=svg.append("g");
  if(clipEdge){
    const id="clip"+(uid++);
    const pts=clipEdge[0].map((t,i)=>[t,clipEdge[1][i]]);
    svg.append("clipPath").attr("id",id).append("path").attr("d",d3.area().x(d=>x(d[0])).y0(y(top)).y1(d=>y(d[1])).curve(d3.curveStepAfter)(pts));
    g.attr("clip-path",`url(#${id})`);
  }
  const th=d3.range(-2.2,4.6,.08);
  const gen=d3.contours().size([n,m]).thresholds(th);
  g.selectAll("path.f").data(gen(flat)).join("path").attr("class","f").attr("d",path).attr("fill",d=>color(d.value+.04));
  g.selectAll("path.l").data(d3.contours().size([n,m]).thresholds(lines)(flat)).join("path").attr("class","l").attr("d",path)
    .attr("fill","none").attr("stroke","#fff").attr("stroke-opacity",.72).attr("stroke-width",1);
}
function stations(arr,x,yPx){
  svg.append("g").selectAll("path").data(arr).join("path")
    .attr("d",d3.symbol(d3.symbolTriangle,26)).attr("transform",d=>`translate(${x(d)},${yPx}) rotate(180)`)
    .attr("fill","#6e6e66").attr("stroke","#2c2c2c").attr("stroke-width",.9);
}

// a
{const x=d3.scaleLinear().domain([1992,2010]).range([174,658]),y=d3.scaleLinear().domain([0,3500]).range([43,353]);
 const c=isolinePanel({name:"a",years:aYears,levels:aLevels,depths:aDepths,domain:labDomain,lines:aLines,x,y,top:60,patches:aPatches,extra:aExtra,labels:aLabels,edge:[aEdgeYears,aEdgeDepths]});
 axes(svg.append("g"),x,y,yearTicks,labDepthTicks,353,9); stations(aStations,x,45);
 titles("Labrador Sea Observations",666,33,346,"a",106,33);
 const v=d3.scaleLinear().domain([2,5]).range([355,50]);
 colorbar(668,684,46,357,2,5,labDomain,labBarTicks,c,v);}
// b
{const x=d3.scaleLinear().domain([1992,2010]).range([802,1287]),y=d3.scaleLinear().domain([0,3500]).range([47,353]);
 const c=isolinePanel({name:"b",years:bYears,levels:bLevels,depths:bDepths,domain:labDomain,lines:bLines,x,y,top:30,patches:bPatches,extra:bExtra,labels:bLabels,curve:sawCurve});
 axes(svg.append("g"),x,y,yearTicks,labDepthTicks,353,12);
 titles("Labrador Sea Model",1281,39,256,"b",741,36);
 const v=d3.scaleLinear().domain([2,5]).range([357,52]);
 colorbar(1293,1307,47,358,2,5,labDomain,labBarTicks,c,v);}
// c
{const x=d3.scaleLinear().domain([1992,2010]).range([172,655]),y=d3.scaleLinear().domain([0,2500]).range([431,741]);
 const c=isolinePanel({name:"c",years:cYears,levels:cLevels,depths:cDepths,domain:irmDomain,lines:cLines,x,y,top:60,patches:cPatches,extra:cExtra,labels:cLabels});
 axes(svg.append("g"),x,y,yearTicks,irmDepthTicks,741,9); stations(cStations,x,433);
 titles("Irminger Sea Observations",660,421,342,"c",105,421);
 const v=d3.scaleLinear().domain([1.5,7]).range([744,437]);
 colorbar(666,681,434,745,1.5,7,irmDomain,irmBarTicks,c,v);}
// d
{const x=d3.scaleLinear().domain([1992,2010]).range([798,1281]),y=d3.scaleLinear().domain([0,2500]).range([437,747]);
 const c=isolinePanel({name:"d",years:dYears,levels:dLevels,depths:dDepths,domain:irmDomain,lines:dLines,x,y,top:25,patches:dPatches,extra:dExtra,labels:dLabels,curve:sawCurve});
 axes(svg.append("g"),x,y,yearTicks,irmDepthTicks,747,9);
 titles("Irminger Sea Model",1281,424,249,"d",740,425);
 const v=d3.scaleLinear().domain([1.5,7]).range([748,439]);
 colorbar(1291,1305,438,749,1.5,7,irmDomain,irmBarTicks,c,v);}
// e
{const x=d3.scaleLinear().domain([1987.5,2010]).range([46,651]),y=d3.scaleLinear().domain([37,500]).range([838,1128]);
 const color=d3.scaleLinear().domain(bafDomain).range(colors).clamp(true);
 gridPanel({years:eLeftYears,depths:eLeftDepths,cols:eLeftCols,x,y,color,lines:eLines});
 gridPanel({years:eRightYears,depths:eRightDepths,cols:eRightCols,x,y,color,lines:eLines,clipEdge:[eEdgeYears,eEdgeDepths],top:50});
 axes(svg.append("g"),x,y,eYearTicks,eDepthTicks,1128,9); stations(eStations,x,839);
 titles("Eastern Baffin Bay Observations",630,812,407,"e",113,816);
 const v=d3.scaleLinear().domain([-2,4]).range([1131,846]);
 colorbar(663,678,822,1133,-2,4.5,bafDomain,bafBarTicks,color,v);}
// f
{const x=d3.scaleLinear().domain([1992,2010]).range([795,1277]),y=d3.scaleLinear().domain([0,500]).range([823,1133]);
 const color=d3.scaleLinear().domain(bafDomain).range(colors).clamp(true);
 gridPanel({years:fYears,depths:fDepths,cols:fCols,x,y,color,lines:fLines});
 axes(svg.append("g"),x,y,yearTicks,fDepthTicks,1133,8);
 titles("Eastern Baffin Bay Model",1279,815,316,"f",737,816);
 const v=d3.scaleLinear().domain([-2,4]).range([1136,849]);
 colorbar(1289,1304,826,1137,-2,4.5,bafDomain,bafBarTicks,color,v);}
</script></body></html>
